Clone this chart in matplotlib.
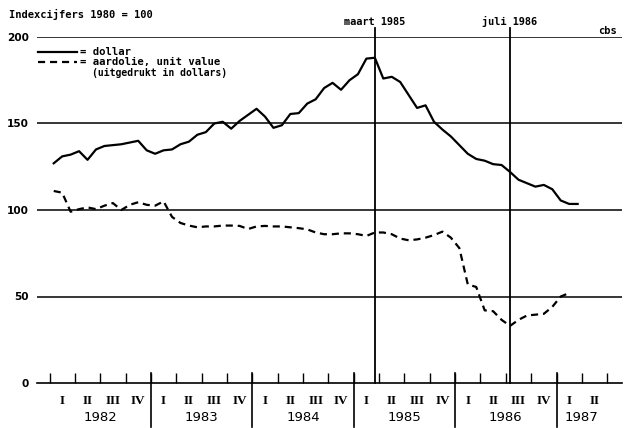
import matplotlib
matplotlib.use("Agg")
import matplotlib.pyplot as plt
from matplotlib.lines import Line2D
import numpy as np

# ---- data (monthly, Jan 1982 = month 0) ----
dollar = [127, 131, 132, 134, 129, 135, 137, 137.5, 138, 139, 140, 134.5,
          132.5, 134.5, 135, 138, 139.5, 143.5, 145, 150, 151, 147, 151.5, 155,
          158.5, 154, 147.5, 149, 155.5, 156, 161.5, 164, 170.5, 173.5, 169.5, 175,
          178.5, 187.5, 188, 176, 177, 174, 166.5, 159, 160.5, 151, 146.5, 142.5,
          137.5, 132.5, 129.5, 128.5, 126.5, 126, 122, 117.5, 115.5, 113.5, 114.5, 112,
          105.5, 103.5, 103.5]
aardolie = [111, 110, 99, 100.5, 101.5, 100.5, 102.5, 104, 100, 103, 104.5, 103,
            102.5, 105, 96, 92.5, 91, 90, 90.5, 90.5, 91, 91, 90.8, 89,
            90.5, 90.8, 90.5, 90.5, 90, 89.5, 88.8, 87, 86, 86, 86.5, 86.5,
            86, 85, 87, 87, 86, 83.5, 82.5, 83, 84, 85.5, 87.5, 84,
            78, 57, 55.5, 42, 41.5, 36.5, 33, 36.5, 39, 39.5, 40, 44,
            50, 52]
years = ["1982", "1983", "1984", "1985", "1986", "1987"]
quarters = ["I", "II", "III", "IV"]
yticks = [0, 50, 100, 150, 200]
markers = [(38.5, "maart 1985"), (54.5, "juli 1986")]

W, H = 624, 428
fig = plt.figure(figsize=(W / 100, H / 100), dpi=100)

def fx(px):
    return px / W

def fy(py):
    return 1 - py / H

MONO = "DejaVu Sans Mono"

ax_l, ax_r, ax_t, ax_b = 37, 622, 37, 383
ax = fig.add_axes([fx(ax_l), fy(ax_b), fx(ax_r - ax_l), (ax_b - ax_t) / H])
ax.set_xlim(-1.48, 67.75)
ax.set_ylim(0, 200)

for s in ["left", "right", "top"]:
    ax.spines[s].set_visible(False)
ax.spines["bottom"].set_linewidth(1.2)

# horizontal grid
for v in yticks[1:]:
    ax.axhline(v, color="black", lw=1.1, zorder=1)

# y labels
ax.set_yticks(yticks)
ax.set_yticklabels([str(v) for v in yticks], fontweight="bold", fontsize=7.6)
ax.tick_params(axis="y", length=0, pad=6)

# x ticks: quarter boundaries
qb = np.arange(0, 67, 3)
ax.set_xticks(qb)
ax.set_xticklabels([])
ax.tick_params(axis="x", direction="in", length=7.5, width=1.0, color="black")
# quarter labels
nq = 22
qc = np.arange(nq) * 3 + 1.5
ax.set_xticks(qc, minor=True)
ax.set_xticklabels([quarters[i % 4] for i in range(nq)], minor=True,
                   fontfamily="Liberation Serif", fontweight="bold", fontsize=9.5)
ax.tick_params(axis="x", which="minor", length=0, pad=9)

# series
xd = np.arange(len(dollar)) + 0.5
xo = np.arange(len(aardolie)) + 0.5
ax.plot(xd, dollar, color="black", lw=1.6, solid_joinstyle="round", zorder=3)
ax.plot(xo, aardolie, color="black", lw=1.6, dashes=(3.2, 2.2), zorder=3)

# year separators and labels
tr = ax.get_xaxis_transform()
for k in range(1, 6):
    ax.plot([12 * k, 12 * k], [0.029, -0.127], transform=tr, color="black",
            lw=1.2, clip_on=False)
for k, y in enumerate(years):
    xc = 12 * k + 6 if k < 5 else 63
    ax.text(xc, -0.101, y, transform=tr, ha="center", va="center",
            fontsize=9.5, fontfamily="DejaVu Sans")

# event markers
for xm, lab in markers:
    ax.plot([xm, xm], [0, 1.025], transform=tr, color="black", lw=1.3,
            clip_on=False, zorder=2)
    ax.text(xm, 1.044, lab, transform=tr, ha="center", va="center",
            fontsize=7.4, fontweight="bold", fontfamily=MONO)

# title & source
fig.text(fx(9), fy(14), "Indexcijfers 1980 = 100", ha="left", va="center",
         fontsize=7.5, fontweight="bold", fontfamily=MONO)
fig.text(fx(598), fy(31), "cbs", ha="left", va="center", fontsize=7.5,
         fontweight="bold", fontfamily=MONO)

# manual legend
fig.add_artist(Line2D([fx(38), fx(77)], [fy(52), fy(52)], color="black", lw=1.6))
fig.add_artist(Line2D([fx(38), fx(77)], [fy(62), fy(62)], color="black", lw=1.6,
                      dashes=(3.2, 2.2)))
fig.text(fx(80), fy(52), "= dollar", ha="left", va="center", fontsize=7.6,
         fontweight="bold", fontfamily=MONO)
fig.text(fx(80), fy(62), "= aardolie, unit value", ha="left", va="center",
         fontsize=7.6, fontweight="bold", fontfamily=MONO)
fig.text(fx(92), fy(73), "(uitgedrukt in dollars)", ha="left", va="center",
         fontsize=7.0, fontweight="bold", fontfamily=MONO)

fig.savefig("out.png", dpi=100)
